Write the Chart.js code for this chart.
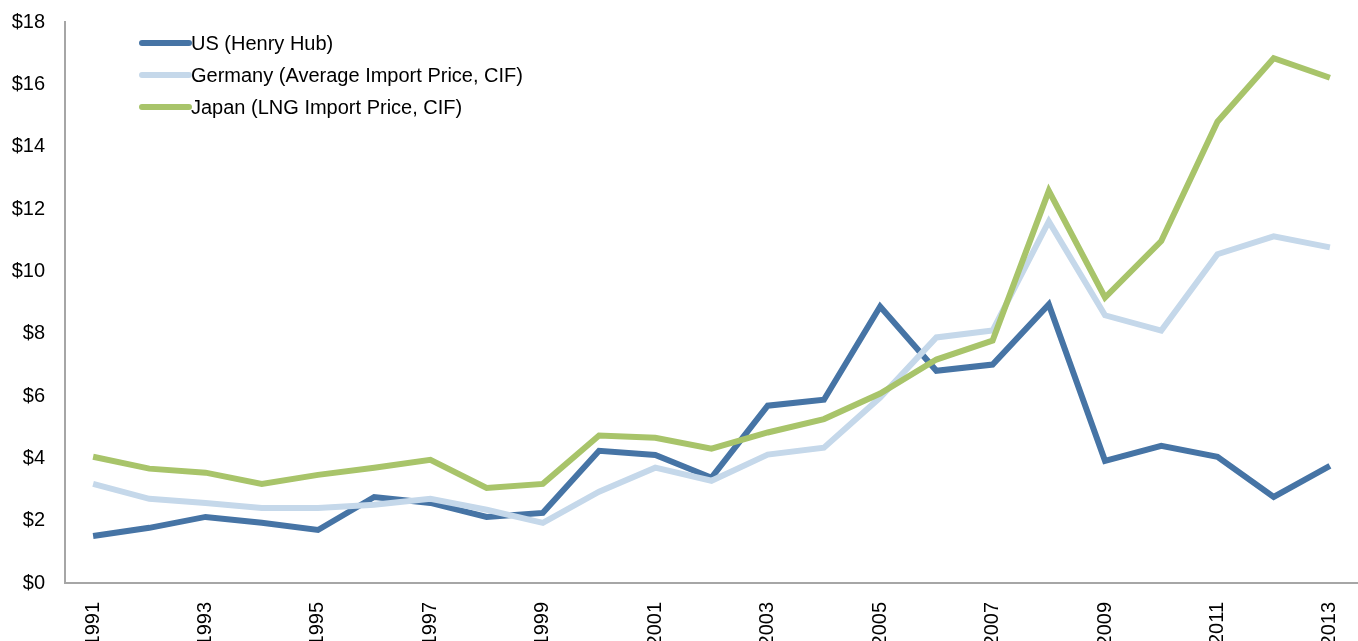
<!DOCTYPE html>
<html>
<head>
<meta charset="utf-8">
<script src="https://cdn.jsdelivr.net/npm/chart.js@4/dist/chart.umd.min.js"></script>
<style>
  html, body { margin: 0; padding: 0; background: #fff; }
  #wrap { width: 1358px; height: 641px; position: relative; }
</style>
</head>
<body>
<div id="wrap"><canvas id="myChart"></canvas></div>
<script>
const years = ['1991', '1992', '1993', '1994', '1995', '1996', '1997', '1998', '1999', '2000', '2001', '2002',
    '2003', '2004', '2005', '2006', '2007', '2008', '2009', '2010', '2011', '2012', '2013']

const usHenryHub = [1.51, 1.77, 2.12, 1.93, 1.70, 2.76, 2.57, 2.12, 2.25, 4.24, 4.11, 3.38,
    5.69, 5.88, 8.87, 6.81, 7.01, 8.94, 3.92, 4.40, 4.05, 2.76, 3.76]
const germanyImport = [3.18, 2.70, 2.57, 2.41, 2.41, 2.51, 2.70, 2.35, 1.93, 2.93, 3.70, 3.28,
    4.12, 4.34, 5.95, 7.88, 8.10, 11.60, 8.59, 8.10, 10.55, 11.12, 10.77]
const japanLng = [4.05, 3.67, 3.54, 3.18, 3.47, 3.70, 3.95, 3.05, 3.18, 4.73, 4.66, 4.31,
    4.83, 5.26, 6.08, 7.17, 7.78, 12.58, 9.16, 10.97, 14.80, 16.84, 16.21]

const seriesNames = ['US (Henry Hub)', 'Germany (Average Import Price, CIF)', 'Japan (LNG Import Price, CIF)']
const seriesColors = ['#4674A5', '#C5D8EA', '#A8C46A']

const FONT = "'Liberation Sans Narrow', 'Arial Narrow', 'Liberation Sans', sans-serif"

// legend drawn inside the plot, top-left, as stacked rows
const insideLegend = {
    id: 'insideLegend',
    afterDraw(chart) {
        const ctx = chart.ctx
        const area = chart.chartArea
        const x0 = area.left + 77
        const lineLen = 47
        let y = area.top + 21
        ctx.save()
        ctx.font = '20px ' + FONT
        ctx.textBaseline = 'middle'
        chart.data.datasets.forEach(ds => {
            ctx.strokeStyle = ds.borderColor
            ctx.lineWidth = 6
            ctx.lineCap = 'round'
            ctx.beginPath()
            ctx.moveTo(x0, y)
            ctx.lineTo(x0 + lineLen, y)
            ctx.stroke()
            ctx.fillStyle = '#000'
            ctx.fillText(ds.label, x0 + lineLen + 2, y + 1)
            y += 32
        })
        ctx.restore()
    }
}

const canvas = document.getElementById('myChart')

const datasets = [usHenryHub, germanyImport, japanLng].map((vals, i) => ({
    label: seriesNames[i],
    data: vals,
    borderColor: seriesColors[i],
    backgroundColor: seriesColors[i],
    borderWidth: 6,
    pointRadius: 0,
    tension: 0,
    fill: false,
    order: 3 - i
}))

const config = {
    type: 'line',
    data: { labels: years, datasets: datasets },
    options: {
        responsive: true,
        maintainAspectRatio: false,
        animation: false,
        layout: { padding: { top: 22, right: 0, bottom: 0, left: 0 } },
        plugins: {
            legend: { display: false },
            tooltip: { enabled: false }
        },
        scales: {
            x: {
                offset: true,
                grid: { display: false, drawTicks: false },
                border: { display: true, color: '#A6A6A6', width: 2 },
                ticks: {
                    autoSkip: false,
                    minRotation: 90,
                    maxRotation: 90,
                    padding: 19,
                    color: '#000',
                    font: { family: FONT, size: 20 },
                    callback: function (val, idx) {
                        return idx % 2 === 0 ? this.getLabelForValue(val) : ''
                    }
                },
                afterFit(scale) {
                    scale.height = 58
                    scale.paddingLeft = 0
                    scale.paddingRight = 0
                }
            },
            y: {
                min: 0,
                max: 18,
                grid: { display: false, drawTicks: false },
                border: { display: true, color: '#A6A6A6', width: 2 },
                ticks: {
                    stepSize: 2,
                    padding: 20,
                    color: '#000',
                    font: { family: FONT, size: 20 },
                    callback: v => '$' + v
                },
                afterFit(scale) {
                    scale.width = 65
                    scale.paddingTop = 0
                    scale.paddingBottom = 0
                }
            }
        }
    },
    plugins: [insideLegend]
}

const myChart = new Chart(canvas, config)
</script>
</body>
</html>
